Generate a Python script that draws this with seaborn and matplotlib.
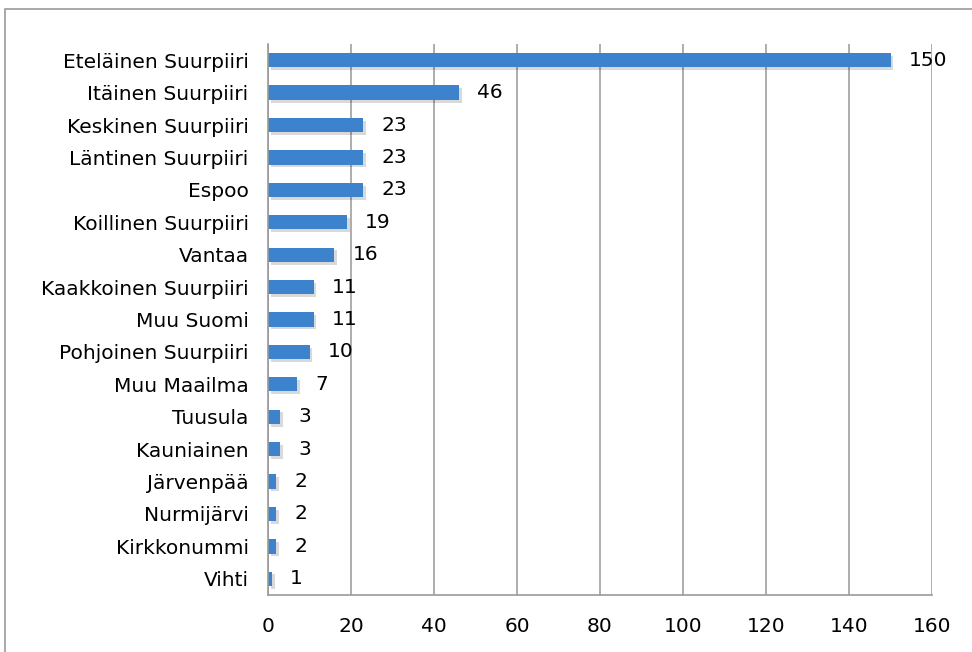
import matplotlib.pyplot as plt
import matplotlib.patches as patches
import matplotlib.patheffects as pe
import seaborn as sns
import pandas as pd
import numpy as np

# values, top to bottom
areas = [
    "Eteläinen Suurpiiri", "Itäinen Suurpiiri", "Keskinen Suurpiiri",
    "Läntinen Suurpiiri", "Espoo", "Koillinen Suurpiiri", "Vantaa",
    "Kaakkoinen Suurpiiri", "Muu Suomi", "Pohjoinen Suurpiiri", "Muu Maailma",
    "Tuusula", "Kauniainen", "Järvenpää", "Nurmijärvi", "Kirkkonummi", "Vihti",
]
counts = [150, 46, 23, 23, 23, 19, 16, 11, 11, 10, 7, 3, 3, 2, 2, 2, 1]
x_ticks = [0, 20, 40, 60, 80, 100, 120, 140, 160]

df = pd.DataFrame({"Area": areas, "Count": counts})

sns.set_style("white")
plt.rcParams['font.family'] = ['DejaVu Sans']
plt.rcParams['text.color'] = 'black'
plt.rcParams['xtick.labelcolor'] = 'black'
plt.rcParams['ytick.labelcolor'] = 'black'

fs = 14.5

fig = plt.figure(figsize=(9.72, 6.52), dpi=100)
ax = fig.add_axes([268 / 972, 1 - 595 / 652, (932 - 268) / 972, (595 - 44) / 652])

# outer chart border
fig.patches.append(patches.Rectangle((5 / 972, -0.01), 1.0, 1 - 9 / 652 + 0.01,
                                     transform=fig.transFigure, fill=False,
                                     edgecolor="#9a9a9a", linewidth=1.2))

sns.barplot(data=df, x="Count", y="Area", orient="h", color="#3d82cc",
            width=0.44, ax=ax, saturation=1, linewidth=0)
for bar in ax.patches:
    bar.set_path_effects([pe.SimplePatchShadow(offset=(2, -2), shadow_rgbFace="#000000", alpha=0.15),
                          pe.Normal()])

for i, v in enumerate(counts):
    ax.annotate(str(v), xy=(v, i), xytext=(13, 0), textcoords="offset points",
                va="center", ha="left", fontsize=fs, color="black")

ax.set_xlim(0, 160)
ax.set_ylim(len(areas) - 0.5, -0.5)
ax.set_xticks(x_ticks)
ax.set_xticklabels([str(t) for t in x_ticks], fontsize=fs)
ax.tick_params(axis="y", labelsize=fs, length=0, pad=14)
ax.set_yticks(np.arange(-0.5, len(areas)), minor=True)
ax.tick_params(axis="y", which="minor", length=5, color="#9a9a9a", width=1.2)
ax.tick_params(axis="x", length=6, color="#9a9a9a", width=1.2, pad=10)
ax.xaxis.grid(True, color="#a0a0a0", linewidth=1.2)
ax.set_axisbelow(True)
ax.set_xlabel("")
ax.set_ylabel("")

for side in ["top", "right"]:
    ax.spines[side].set_visible(False)
for side in ["left", "bottom"]:
    ax.spines[side].set_color("#9a9a9a")
    ax.spines[side].set_linewidth(1.2)

plt.savefig("out.png", dpi=100)
